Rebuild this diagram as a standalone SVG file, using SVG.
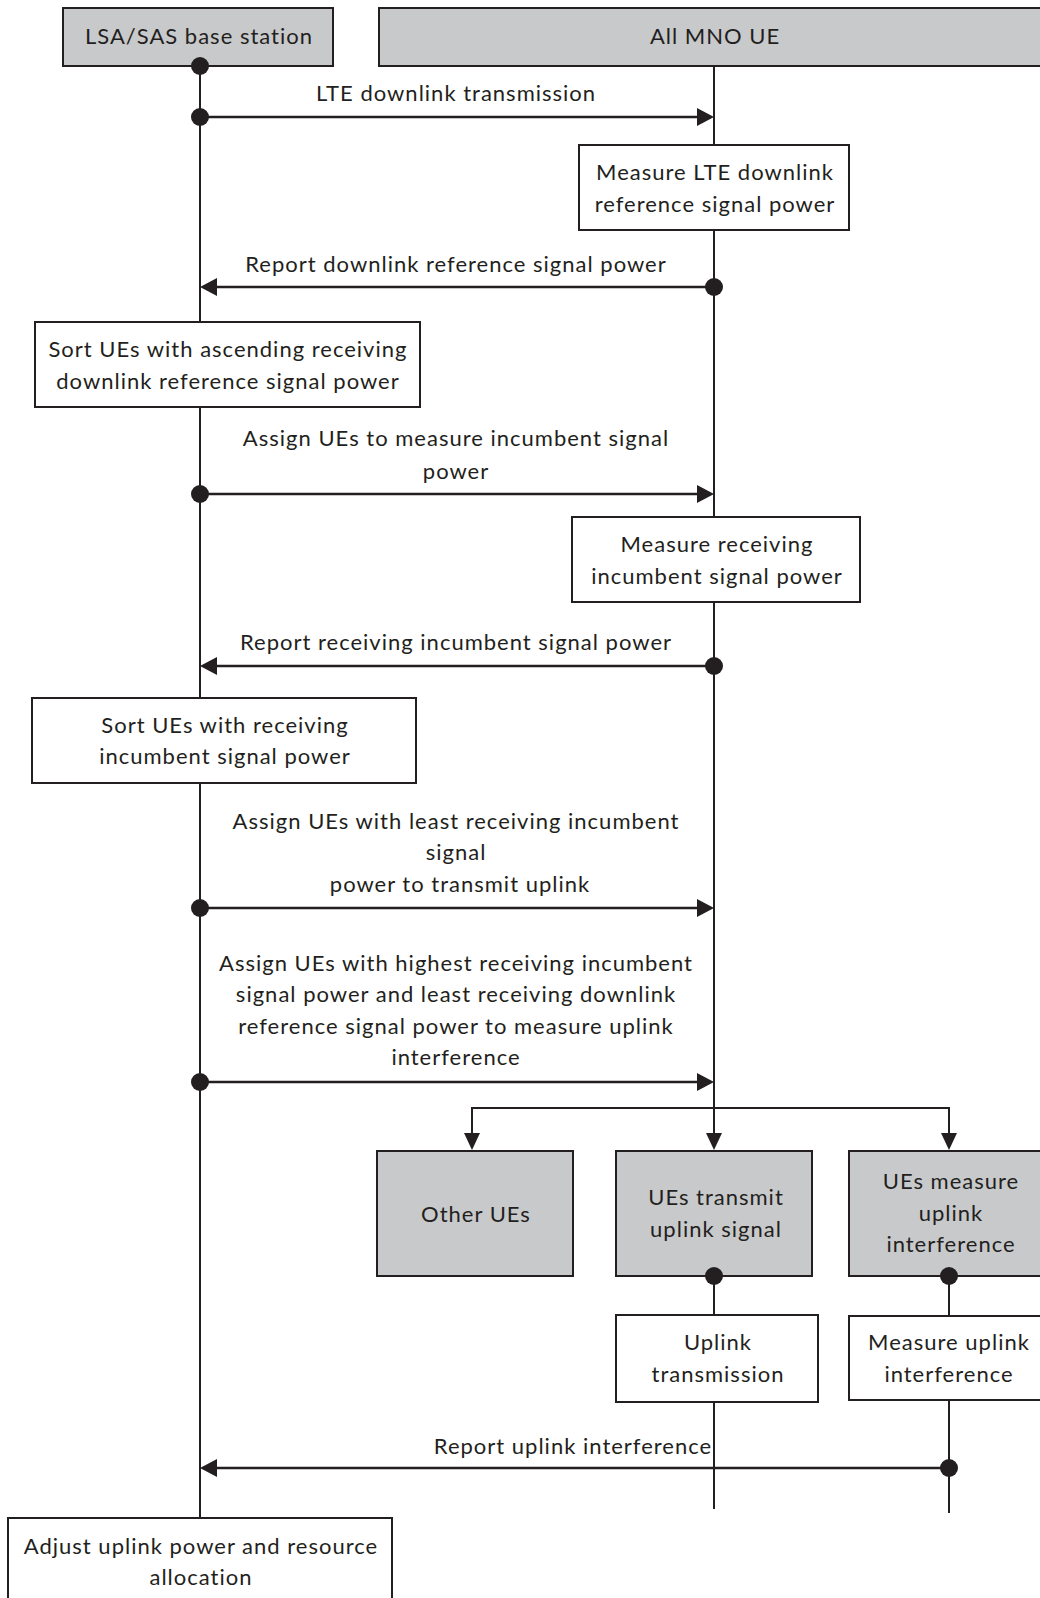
<svg xmlns="http://www.w3.org/2000/svg" width="1040" height="1598" viewBox="0 0 1040 1598">
  <style>
    text { font-family: Lato, "Liberation Sans", sans-serif; font-size: 22px; letter-spacing: 1px; fill: #231f20; text-anchor: middle; }
    .box { fill: #ffffff; stroke: #231f20; stroke-width: 2; }
    .grey { fill: #c8c9cb; stroke: #231f20; stroke-width: 2; }
    .life { stroke: #231f20; stroke-width: 2; fill: none; }
    .msg { stroke: #231f20; stroke-width: 2.4; fill: none; }
    .dot { fill: #231f20; }
    .head { fill: #231f20; }
  </style>

  <!-- lifelines and message connectors -->
  <g id="connectors">
    <line class="life" x1="200" y1="66" x2="200" y2="1518"/>
    <line class="life" x1="714" y1="66" x2="714" y2="1135"/>
    <line class="life" x1="714" y1="1276" x2="714" y2="1315"/>
    <line class="life" x1="949" y1="1276" x2="949" y2="1316"/>
    <line class="life" x1="714" y1="1402" x2="714" y2="1509"/>
    <line class="life" x1="949" y1="1400" x2="949" y2="1513"/>

    <!-- LTE downlink transmission -->
    <line class="msg" x1="200" y1="117" x2="698" y2="117"/>
    <circle class="dot" cx="200" cy="117" r="9"/>
    <polygon class="head" points="714,117 697,108 697,126"/>

    <!-- Report downlink reference signal power -->
    <line class="msg" x1="216" y1="287" x2="714" y2="287"/>
    <circle class="dot" cx="714" cy="287" r="9"/>
    <polygon class="head" points="200,287 217,278 217,296"/>

    <!-- Assign UEs to measure incumbent signal power -->
    <line class="msg" x1="200" y1="494" x2="698" y2="494"/>
    <circle class="dot" cx="200" cy="494" r="9"/>
    <polygon class="head" points="714,494 697,485 697,503"/>

    <!-- Report receiving incumbent signal power -->
    <line class="msg" x1="216" y1="666" x2="714" y2="666"/>
    <circle class="dot" cx="714" cy="666" r="9"/>
    <polygon class="head" points="200,666 217,657 217,675"/>

    <!-- Assign UEs with least receiving incumbent signal power -->
    <line class="msg" x1="200" y1="908" x2="698" y2="908"/>
    <circle class="dot" cx="200" cy="908" r="9"/>
    <polygon class="head" points="714,908 697,899 697,917"/>

    <!-- Assign UEs with highest receiving incumbent signal power -->
    <line class="msg" x1="200" y1="1082" x2="698" y2="1082"/>
    <circle class="dot" cx="200" cy="1082" r="9"/>
    <polygon class="head" points="714,1082 697,1073 697,1091"/>

    <!-- fan-out to the three UE groups -->
    <polyline class="life" points="472,1135 472,1108 949,1108 949,1135"/>
    <polygon class="head" points="472,1150 464,1133 480,1133"/>
    <polygon class="head" points="714,1150 706,1133 722,1133"/>
    <polygon class="head" points="949,1150 941,1133 957,1133"/>

    <!-- Report uplink interference -->
    <rect x="430" y="1429" width="283" height="32" fill="#ffffff"/>
    <line class="msg" x1="216" y1="1468" x2="949" y2="1468"/>
    <circle class="dot" cx="949" cy="1468" r="9"/>
    <polygon class="head" points="200,1468 217,1459 217,1477"/>
  </g>

  <!-- message labels -->
  <g id="labels">
    <text x="456" y="101">LTE downlink transmission</text>
    <text x="456" y="272">Report downlink reference signal power</text>
    <text x="456" y="446">Assign UEs to measure incumbent signal</text>
    <text x="456" y="479">power</text>
    <text x="456" y="650">Report receiving incumbent signal power</text>
    <text x="456" y="829">Assign UEs with least receiving incumbent</text>
    <text x="456" y="860">signal</text>
    <text x="460" y="892">power to transmit uplink</text>
    <text x="456" y="971">Assign UEs with highest receiving incumbent</text>
    <text x="456" y="1002">signal power and least receiving downlink</text>
    <text x="456" y="1034">reference signal power to measure uplink</text>
    <text x="456" y="1065">interference</text>
    <text x="573" y="1454">Report uplink interference</text>
  </g>

  <g id="lsa-base-station">
    <rect class="grey" x="63" y="8" width="270" height="58"/>
    <text x="199" y="44">LSA/SAS base station</text>
  </g>

  <g id="all-mno-ue">
    <rect class="grey" x="379" y="8" width="670" height="58"/>
    <text x="715" y="44">All MNO UE</text>
  </g>

  <g id="measure-lte">
    <rect class="box" x="579" y="145" width="270" height="85"/>
    <text x="715" y="180">Measure LTE downlink</text>
    <text x="715" y="212">reference signal power</text>
  </g>

  <g id="sort-ascending">
    <rect class="box" x="35" y="322" width="385" height="85"/>
    <text x="228" y="357">Sort UEs with ascending receiving</text>
    <text x="228" y="389">downlink reference signal power</text>
  </g>

  <g id="measure-incumbent">
    <rect class="box" x="572" y="517" width="288" height="85"/>
    <text x="717" y="552">Measure receiving</text>
    <text x="717" y="584">incumbent signal power</text>
  </g>

  <g id="sort-incumbent">
    <rect class="box" x="32" y="698" width="384" height="85"/>
    <text x="225" y="733">Sort UEs with receiving</text>
    <text x="225" y="764">incumbent signal power</text>
  </g>

  <g id="other-ues">
    <rect class="grey" x="377" y="1151" width="196" height="125"/>
    <text x="476" y="1222">Other UEs</text>
  </g>

  <g id="ues-transmit">
    <rect class="grey" x="616" y="1151" width="196" height="125"/>
    <text x="716" y="1205">UEs transmit</text>
    <text x="716" y="1237">uplink signal</text>
  </g>

  <g id="ues-measure">
    <rect class="grey" x="849" y="1151" width="200" height="125"/>
    <text x="951" y="1189">UEs measure</text>
    <text x="951" y="1221">uplink</text>
    <text x="951" y="1252">interference</text>
  </g>

  <g id="uplink-transmission">
    <rect class="box" x="616" y="1315" width="202" height="87"/>
    <text x="718" y="1350">Uplink</text>
    <text x="718" y="1382">transmission</text>
  </g>

  <g id="measure-uplink">
    <rect class="box" x="849" y="1316" width="200" height="84"/>
    <text x="949" y="1350">Measure uplink</text>
    <text x="949" y="1382">interference</text>
  </g>

  <g id="adjust-uplink">
    <rect class="box" x="8" y="1518" width="384" height="90"/>
    <text x="201" y="1554">Adjust uplink power and resource</text>
    <text x="201" y="1585">allocation</text>
  </g>

  <!-- connector end dots that sit on node borders -->
  <g id="connector-ends">
    <circle class="dot" cx="200" cy="66" r="9"/>
    <circle class="dot" cx="714" cy="1276" r="9"/>
    <circle class="dot" cx="949" cy="1276" r="9"/>
  </g>
</svg>
